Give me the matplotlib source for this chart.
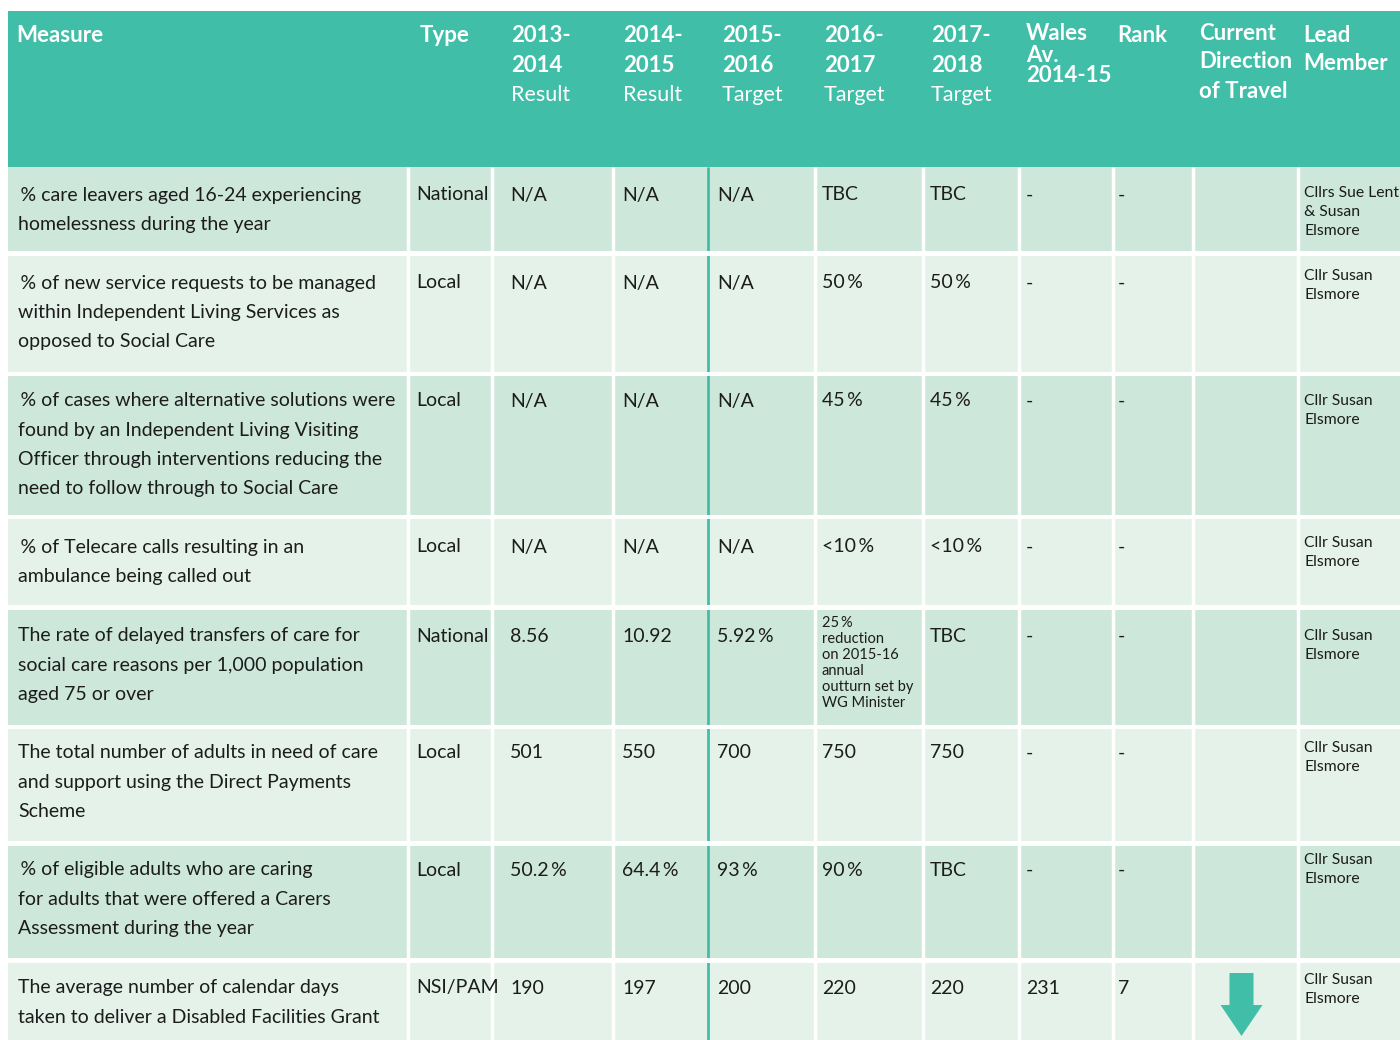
import matplotlib
matplotlib.use('Agg')
import matplotlib.pyplot as plt
from matplotlib.patches import Rectangle, Polygon

# ---- table content ----
headers = [
    ["Measure"],
    ["Type"],
    ["2013-", "2014", "Result"],
    ["2014-", "2015", "Result"],
    ["2015-", "2016", "Target"],
    ["2016-", "2017", "Target"],
    ["2017-", "2018", "Target"],
    ["Wales", "Av.", "2014-15"],
    ["Rank"],
    ["Current", "Direction", "of Travel"],
    ["Lead", "Member"],
]
measures = [
    ["\u2009% care leavers aged 16-24 experiencing", "homelessness during the year"],
    ["\u2009% of new service requests to be managed", "within Independent Living Services as",
     "opposed to Social Care"],
    ["\u2009% of cases where alternative solutions were", "found by an Independent Living Visiting",
     "Officer through interventions reducing the", "need to follow through to Social Care"],
    ["\u2009% of Telecare calls resulting in an", "ambulance being called out"],
    ["The rate of delayed transfers of care for", "social care reasons per 1,000 population",
     "aged 75 or over"],
    ["The total number of adults in need of care", "and support using the Direct Payments",
     "Scheme"],
    ["\u2009% of eligible adults who are caring", "for adults that were offered a Carers",
     "Assessment during the year"],
    ["The average number of calendar days", "taken to deliver a Disabled Facilities Grant"],
]
types = ["National", "Local", "Local", "Local", "National", "Local", "Local", "NSI/PAM"]
result_1314 = ["N/A", "N/A", "N/A", "N/A", "8.56", "501", "50.2\u2009%", "190"]
result_1415 = ["N/A", "N/A", "N/A", "N/A", "10.92", "550", "64.4\u2009%", "197"]
target_1516 = ["N/A", "N/A", "N/A", "N/A", "5.92\u2009%", "700", "93\u2009%", "200"]
target_1617 = ["TBC", "50\u2009%", "45\u2009%", "<10\u2009%",
               "25\u2009%\nreduction\non 2015-16\nannual\noutturn set by\nWG Minister",
               "750", "90\u2009%", "220"]
target_1718 = ["TBC", "50\u2009%", "45\u2009%", "<10\u2009%", "TBC", "750", "TBC", "220"]
wales_avg = ["-", "-", "-", "-", "-", "-", "-", "231"]
rank = ["-", "-", "-", "-", "-", "-", "-", "7"]
direction = ["", "", "", "", "", "", "", "down"]
lead_member = [
    "Cllrs Sue Lent\n& Susan\nElsmore",
    "Cllr Susan\nElsmore",
    "Cllr Susan\nElsmore",
    "Cllr Susan\nElsmore",
    "Cllr Susan\nElsmore",
    "Cllr Susan\nElsmore",
    "Cllr Susan\nElsmore",
    "Cllr Susan\nElsmore",
]

# ---- layout (pixels) ----
TEAL = '#41bea8'
DARK = '#cde7db'
LIGHT = '#e4f2ea'
INK = '#1c1c1c'
FONT = ['Lato', 'DejaVu Sans']

col_x = [8, 408, 492, 613, 708, 815, 923, 1019, 1113, 1193, 1298, 1400]
head_x = [16, 420, 511, 623, 722, 824, 931, 1026, 1117, 1199, 1303]
cell_x = [18, 416, 510, 622, 717, 822, 930, 1026, 1118, 1199, 1304]
head_y = [[35], [35], [35, 65, 95], [35, 65, 95], [35, 65, 95], [35, 65, 95],
          [35, 65, 95], [34, 55, 76], [35], [34, 62, 91], [35, 64]]
row_top = [167, 256, 376, 519, 610, 729, 846, 963]
row_bot = [251, 372, 515, 605, 725, 841, 958, 1040]
text_y = [195, 283, 401, 547, 636, 753, 870, 988]
lead_y = [193, 276, 401, 543, 636, 748, 860, 980]
LINE = 29.3

fig = plt.figure(figsize=(14, 10.4), dpi=100)
ax = fig.add_axes([0, 0, 1, 1])
ax.set_xlim(0, 1400)
ax.set_ylim(1040, 0)
ax.axis('off')

# header band
ax.add_patch(Rectangle((8, 11), 1392, 156, color=TEAL, lw=0))
for j, lines in enumerate(headers):
    for k, line in enumerate(lines):
        regular = 2 <= j <= 6 and k == 2
        ax.text(head_x[j], head_y[j][k], line, color='white',
                fontsize=15.5 if regular else 16,
                fontweight='normal' if regular else 'bold', family=FONT,
                va='center', ha='left')

# body rows
for i in range(len(types)):
    top, bot = row_top[i], row_bot[i]
    ax.add_patch(Rectangle((8, top), 1392, bot - top,
                           color=DARK if i % 2 == 0 else LIGHT, lw=0))
    for k, line in enumerate(measures[i]):
        ax.text(cell_x[0], text_y[i] + k * LINE, line, color=INK, fontsize=14,
                family=FONT, va='center')
    values = [types[i], result_1314[i], result_1415[i], target_1516[i],
              target_1617[i], target_1718[i], wales_avg[i], rank[i]]
    for j, val in enumerate(values, start=1):
        if '\n' in val:
            for k, line in enumerate(val.split('\n')):
                ax.text(cell_x[j], top + 13 + k * 16, line, color=INK, fontsize=10.5,
                        family=FONT, va='center')
        else:
            ax.text(cell_x[j], text_y[i], val, color=INK, fontsize=14,
                    family=FONT, va='center')
    for k, line in enumerate(lead_member[i].split('\n')):
        ax.text(cell_x[10], lead_y[i] + k * 19, line, color=INK, fontsize=11.3,
                family=FONT, va='center')
    if direction[i] == 'down':
        cx = (col_x[9] + col_x[10]) / 2 - 4
        ax.add_patch(Polygon([(cx - 12, top + 10), (cx + 12, top + 10), (cx + 12, top + 42),
                              (cx + 21, top + 42), (cx, top + 73), (cx - 21, top + 42),
                              (cx - 12, top + 42)], closed=True, color=TEAL, lw=0))

# separators
for x in col_x[1:-1]:
    ax.plot([x, x], [167, 1040], color=TEAL if x == 708 else 'white',
            lw=2 if x == 708 else 2.5, solid_capstyle='butt', zorder=2)
for i in range(len(row_top) - 1):
    ax.add_patch(Rectangle((8, row_bot[i]), 1392, row_top[i + 1] - row_bot[i],
                           color='white', lw=0, zorder=3))

plt.savefig('out.png', dpi=100)
